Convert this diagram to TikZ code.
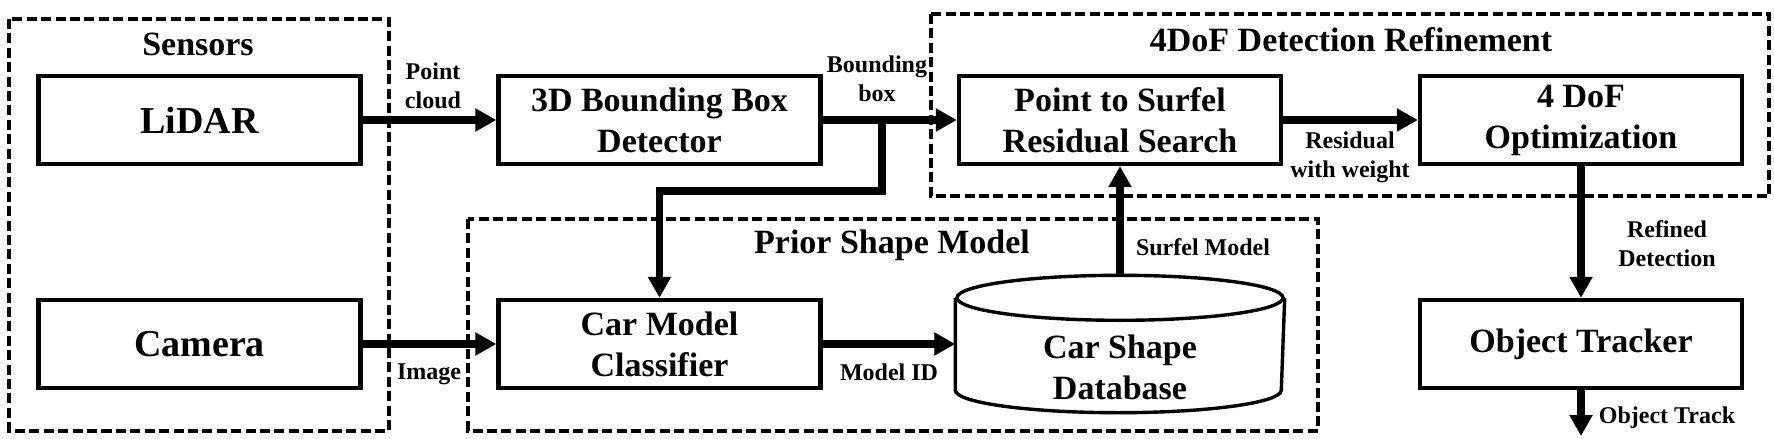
\documentclass[tikz,border=0pt]{standalone}
\usepackage{fontspec}
\setmainfont{Liberation Serif}
\usetikzlibrary{arrows.meta}
\tikzset{
	block/.style={rectangle,draw,line width=2.2pt,minimum width=161pt,minimum height=44pt,
		inner sep=0pt,align=center,font=\fontsize{17}{20.5}\selectfont\bfseries},
	sensor/.style={block,font=\fontsize{19}{22}\selectfont\bfseries},
	database/.style={rectangle,line width=1.7pt,minimum width=163pt,minimum height=67pt,inner sep=0pt},
	dbline/.style={draw,line width=1.7pt},
	group/.style={draw,line width=2pt,dash pattern=on 5pt off 2.2pt},
	title/.style={font=\fontsize{17}{20.5}\selectfont\bfseries},
	tag/.style={align=center,inner sep=0pt,font=\fontsize{12}{14.5}\selectfont\bfseries}
}
\begin{document}
\begin{tikzpicture}[x=0.5pt,y=-0.5pt,>={Triangle[length=10.5pt,width=11pt]},
	flow/.style={->,line width=3.8pt}
	]
	\useasboundingbox (0,0) rectangle (1774,439);
	% groups
	\draw[group] (9,19) rectangle (389,430.5);
	\draw[group] (468,219) rectangle (1318,430.5);
	\draw[group] (930.5,14) rectangle (1769,196);
	\node[title] (sens) at (198,44) {Sensors};
	\node[title] (prior) at (892,245) {Prior Shape Model};
	\node[title] (refine) at (1351,40) {4DoF Detection Refinement};
	% blocks
	\node[sensor] (lidar) at (199.5,120) {LiDAR};
	\node[sensor] (camera) at (199.5,344) {Camera};
	\node[block] (bbox) at (659.5,120) {3D Bounding Box\\Detector};
	\node[block] (classifier) at (659.5,344) {Car Model\\Classifier};
	\node[block] (pts) at (1120,120) {Point to Surfel\\Residual Search};
	\node[block] (opt) at (1581,120) {4 DoF\\Optimization};
	\node[block] (tracker) at (1581,344) {Object Tracker};
	\node[database] (db) at (1120,344) {};
	\path (db.north) ++(0,-11.25pt) coordinate (dbtop);
	\path (db.south) ++(0,11.25pt) coordinate (dbbot);
	\draw[dbline] (dbtop) ellipse [x radius=81.5pt,y radius=11.25pt];
	\draw[dbline] (db.west |- dbtop) -- (db.west |- dbbot)
		arc [start angle=180,end angle=360,x radius=81.5pt,y radius=11.25pt] -- (db.east |- dbtop);
	\node[title,align=center] (dbtext) at (1120,367) {Car Shape\\Database};
	\coordinate (split) at (882,120);
	\coordinate (turn) at (659.5,191);
	\coordinate (out) at (1581,436);
	% connectors
	\draw[flow] (lidar) -- (bbox);
	\draw[flow] (camera) -- (classifier);
	\draw[flow] (bbox) -- (pts);
	\draw[flow] (split) |- (turn) -- (classifier);
	\draw[flow] (classifier) -- (db);
	\draw[flow] (db) -- (pts);
	\draw[flow] (pts) -- (opt);
	\draw[flow] (opt) -- (tracker);
	\draw[flow] (tracker) -- (out);
	% labels
	\node[tag] (lpoint) at (433,86) {Point\\cloud};
	\node[tag] (limage) at (429,374) {Image};
	\node[tag] (lbox) at (877,79) {Bounding\\box};
	\node[tag] (lres) at (1350,157) {Residual\\with weight};
	\node[tag] (lsurf) at (1203,247) {Surfel Model};
	\node[tag] (lid) at (889,372) {Model ID};
	\node[tag] (lref) at (1667,244) {Refined\\Detection};
	\node[tag] (ltrack) at (1667,418) {Object Track};
\end{tikzpicture}
\end{document}
